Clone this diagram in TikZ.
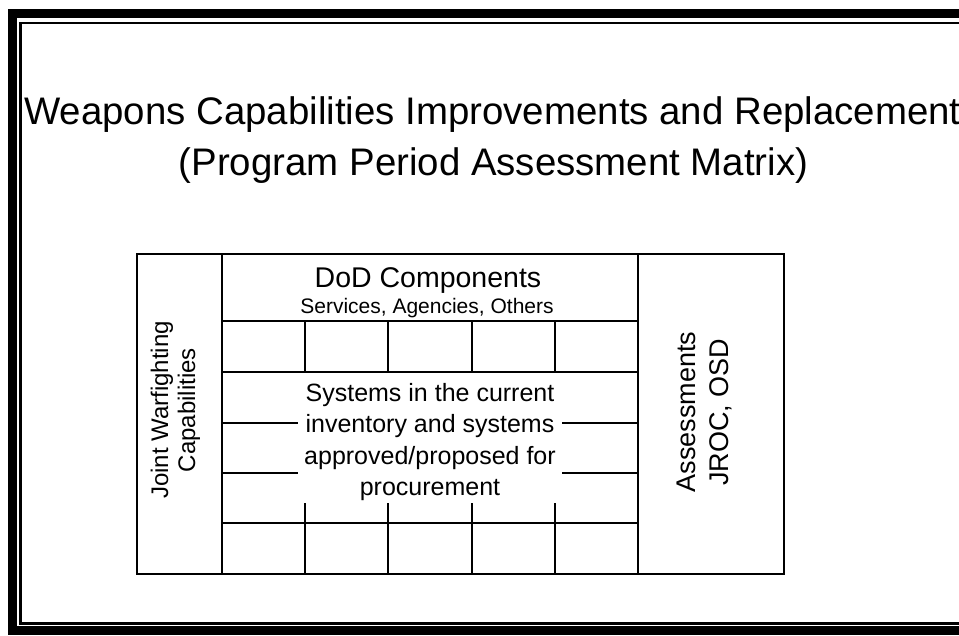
\documentclass[tikz,border=0pt]{standalone}
\usepackage{fontspec}
\setmainfont{Liberation Sans}
\newcommand{\fsz}[2]{\fontsize{#1pt}{#2pt}\selectfont}
\begin{document}
\begin{tikzpicture}[x=1pt,y=-1pt,
  gridline/.style={line width=2pt, line cap=rect},
  txt/.style={inner sep=0pt, anchor=base},
]
\useasboundingbox (0,0) rectangle (959,635);
% outer double frame (right side runs off the page)
\draw[line width=9pt, line join=miter] (959,13.5) -- (12.5,13.5) -- (12.5,630.5) -- (959,630.5);
\draw[line width=2.5pt, line join=miter] (959,23) -- (20.5,23) -- (20.5,623.5) -- (959,623.5);

% title
\node[txt] (t1) at (492.5,124) {\fsz{38.4}{44}Weapons Capabilities Improvements and Replacement};
\node[txt] (t2) at (493.5,175) {\fsz{38.4}{44}(Program Period Assessment Matrix)};

% table frame
\draw[gridline] (137,254) rectangle (784,574);
\draw[gridline] (222,254) -- (222,574);
\draw[gridline] (638,254) -- (638,574);
\draw[gridline] (222,321) -- (638,321);
\draw[gridline] (222,372) -- (638,372);
\draw[gridline] (222,523) -- (638,523);
\foreach \x in {305.2,388.4,471.6,554.8}{
  \draw[gridline] (\x,321) -- (\x,372);
  \draw[gridline] (\x,504) -- (\x,574);
}
\draw[gridline] (222,422.5) -- (297,422.5);
\draw[gridline] (222,473) -- (297,473);
\draw[gridline] (563,422.5) -- (638,422.5);
\draw[gridline] (563,473) -- (638,473);

% header texts
\node[txt] (dod) at (428,287) {\fsz{28.5}{32}DoD Components};
\node[txt] (srv) at (427,313) {\fsz{21}{24}Services, Agencies, Others};

% middle text
\node[txt] (sys) at (430,401) {\fsz{25}{31.5}\begin{tabular}[t]{@{}c@{}}Systems in the current\\ inventory and systems\\ approved/proposed for\\ procurement\end{tabular}};

% rotated side texts
\node[txt, rotate=90] (jwc) at (168,410) {\fsz{24}{27}\begin{tabular}[t]{@{}c@{}}Joint Warfighting\\ Capabilities\end{tabular}};
\node[txt, rotate=90] (asm) at (695,412) {\fsz{27}{33}\begin{tabular}[t]{@{}c@{}}Assessments\\ JROC, OSD\end{tabular}};
\end{tikzpicture}
\end{document}
